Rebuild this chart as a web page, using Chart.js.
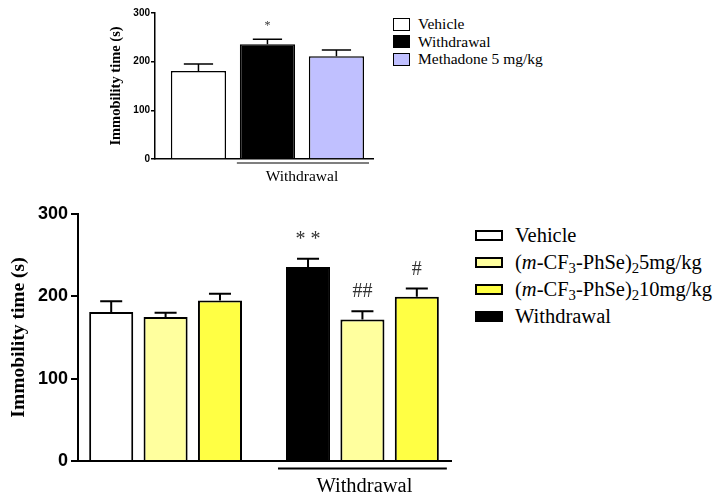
<!DOCTYPE html>
<html><head><meta charset="utf-8">
<script src="https://cdn.jsdelivr.net/npm/chart.js@4"></script>
<style>
html,body{margin:0;padding:0;background:#fff;width:724px;height:500px;overflow:hidden;position:relative}
.wrap{position:absolute}
.leg{position:absolute;font-family:"Liberation Serif","Times New Roman",serif;color:#000;white-space:nowrap}
.leg .row{position:absolute;left:0;display:flex;align-items:center}
.leg .box{box-sizing:border-box;border:solid #000}
sub{font-size:72%;vertical-align:-0.3em;line-height:0}
</style></head><body>
<div class="wrap" style="left:100px;top:0;width:290px;height:195px"><canvas id="top"></canvas></div>
<div class="wrap" style="left:0;top:195px;width:470px;height:305px"><canvas id="bot"></canvas></div>
<div class="leg" id="legTop" style="left:393px;top:0"></div>
<div class="leg" id="legBot" style="left:475px;top:195px"></div>
<script>
// ---- Top chart data ----
const topCategories = ['Vehicle', 'Withdrawal', 'Methadone 5 mg/kg'];
const topValues = [181, 236, 211];
const topErrors = [14, 10, 13];
const topMarks = ['', '*', ''];
const topColors = ['#ffffff', '#000000', '#c0c0ff'];
const topTicks = [0, 100, 200, 300];

// ---- Bottom chart data ----
const botGroups = ['Control', 'Withdrawal'];
const botSeries = ['Vehicle / Withdrawal', '(m-CF3-PhSe)2 5mg/kg', '(m-CF3-PhSe)2 10mg/kg'];
const botFirstValues = [181, 235.5];
const botFirstErrors = [13, 10];
const botDose5Values = [175, 172];
const botDose5Errors = [5, 10];
const botDose10Values = [195, 199.5];
const botDose10Errors = [8, 10];
const botFirstMarks = ['', '* *'];
const botDose5Marks = ['', '##'];
const botDose10Marks = ['', '#'];
const botTicks = [0, 100, 200, 300];

const errorBarPlugin = {
  id: 'errbars',
  afterDatasetsDraw(chart, args, opts) {
    const ctx = chart.ctx, y = chart.scales.y;
    chart.data.datasets.forEach((ds, di) => {
      const meta = chart.getDatasetMeta(di);
      meta.data.forEach((el, i) => {
        const v = ds.data[i].y, e = ds.errors[i];
        const yTop = y.getPixelForValue(v + e);
        const half = el.width * opts.capRatio / 2;
        ctx.save();
        ctx.strokeStyle = '#000';
        ctx.lineWidth = opts.lineWidth;
        ctx.beginPath();
        ctx.moveTo(el.x, el.y);
        ctx.lineTo(el.x, yTop);
        ctx.moveTo(el.x - half, yTop);
        ctx.lineTo(el.x + half, yTop);
        ctx.stroke();
        const m = ds.marks[i];
        if (m) {
          ctx.fillStyle = '#333';
          ctx.font = opts.markFont;
          ctx.textAlign = 'center';
          ctx.textBaseline = 'middle';
          ctx.fillText(m, el.x, yTop - opts.markOffset);
        }
        ctx.restore();
      });
    });
  }
};

const groupLabelPlugin = {
  id: 'grouplabel',
  afterDraw(chart, args, opts) {
    const ctx = chart.ctx;
    const first = chart.getDatasetMeta(opts.from[0]).data[opts.from[1]];
    const last = chart.getDatasetMeta(opts.to[0]).data[opts.to[1]];
    const l = first.x - first.width / 2, r = last.x + last.width / 2;
    const yb = chart.chartArea.bottom + opts.lineGap;
    ctx.save();
    ctx.strokeStyle = '#000';
    ctx.lineWidth = opts.lineWidth;
    ctx.beginPath();
    ctx.moveTo(l - opts.extL, yb); ctx.lineTo(r + opts.extR, yb); ctx.stroke();
    ctx.fillStyle = '#000';
    ctx.font = opts.font;
    ctx.textAlign = 'center';
    ctx.textBaseline = 'alphabetic';
    ctx.fillText(opts.text, (l + r) / 2 + opts.textShift, yb + opts.textGap);
    ctx.restore();
  }
};

function yScale(ticks, o) {
  return {
    min: 0, max: 300,
    afterBuildTicks(s) { s.ticks = ticks.map(v => ({ value: v })); },
    afterFit(s) { s.width = o.width; },
    border: { display: true, color: '#000', width: o.lw },
    grid: { display: true, drawOnChartArea: false, drawTicks: true, tickLength: o.tickLen, color: '#000', lineWidth: o.lw },
    ticks: { color: '#000', padding: o.pad, font: { family: 'Liberation Sans, Arial', weight: 'bold', size: o.tickSize } },
    title: { display: true, text: 'Immobility time (s)', color: '#000', padding: { top: o.titlePad, bottom: 0 },
      font: { family: 'Liberation Serif, Times New Roman', weight: 'bold', size: o.titleSize } }
  };
}
function xScale(labels, min, max, lw) {
  return {
    type: 'linear', min: min, max: max, offset: false,
    afterBuildTicks(s) { s.ticks = labels.map((c, i) => ({ value: i })); },
    afterFit(s) { s.height = 0; },
    border: { display: true, color: '#000', width: lw },
    grid: { display: false, offset: false },
    ticks: { display: false }
  };
}

// ---- Top chart ----
new Chart(document.getElementById('top'), {
  type: 'bar',
  data: {
    datasets: [{
      data: topCategories.map((c, i) => ({ x: i, y: topValues[i] })),
      errors: topErrors, marks: topMarks,
      backgroundColor: topColors, borderColor: '#000', borderWidth: 1.5,
      categoryPercentage: 1, barPercentage: 0.8
    }]
  },
  options: {
    responsive: true, maintainAspectRatio: false, animation: false,
    layout: { padding: { top: 13, bottom: 36, right: 17, left: 0 } },
    plugins: {
      legend: { display: false }, tooltip: { enabled: false },
      errbars: { capRatio: 0.53, lineWidth: 1.5, markFont: '12px Liberation Serif', markOffset: 13 },
      grouplabel: { from: [0, 1], to: [0, 2], text: 'Withdrawal', extL: 3, extR: 5, lineGap: 4, textGap: 18, textShift: 0, lineWidth: 1.2, font: '15.5px Liberation Serif' }
    },
    scales: {
      x: xScale(topCategories, -0.63, 2.53, 1.5),
      y: yScale(topTicks, { width: 55, lw: 1.5, tickLen: 4, pad: 1, tickSize: 10, titleSize: 14.5, titlePad: 8 })
    }
  },
  plugins: [errorBarPlugin, groupLabelPlugin]
});

// ---- Bottom chart ----
const botColorsFirst = ['#ffffff', '#000000'];
new Chart(document.getElementById('bot'), {
  type: 'bar',
  data: {
    datasets: [
      { label: botSeries[0], data: botGroups.map((g, i) => ({ x: i, y: botFirstValues[i] })), errors: botFirstErrors, marks: botFirstMarks, backgroundColor: botColorsFirst },
      { label: botSeries[1], data: botGroups.map((g, i) => ({ x: i, y: botDose5Values[i] })), errors: botDose5Errors, marks: botDose5Marks, backgroundColor: '#ffff9e' },
      { label: botSeries[2], data: botGroups.map((g, i) => ({ x: i, y: botDose10Values[i] })), errors: botDose10Errors, marks: botDose10Marks, backgroundColor: '#ffff44' }
    ].map(d => Object.assign(d, { borderColor: '#000', borderWidth: 2, categoryPercentage: 0.829, barPercentage: 0.81 }))
  },
  options: {
    responsive: true, maintainAspectRatio: false, animation: false,
    layout: { padding: { top: 19, bottom: 39, right: 19, left: 0 } },
    plugins: {
      legend: { display: false }, tooltip: { enabled: false },
      errbars: { capRatio: 0.5, lineWidth: 2, markFont: '20px Liberation Serif', markOffset: 19 },
      grouplabel: { from: [0, 1], to: [2, 1], text: 'Withdrawal', extL: 8, extR: 8, lineGap: 7.6, textGap: 23.5, textShift: 2, lineWidth: 2, font: '20.5px Liberation Serif' }
    },
    scales: {
      x: xScale(botGroups, -0.445, 1.45, 2),
      y: yScale(botTicks, { width: 78, lw: 2, tickLen: 7, pad: 3, tickSize: 18, titleSize: 19.5, titlePad: 7 })
    }
  },
  plugins: [errorBarPlugin, groupLabelPlugin]
});

// ---- HTML legends ----
const topLegend = [
  { html: 'Vehicle', fill: '#ffffff' },
  { html: 'Withdrawal', fill: '#000000' },
  { html: 'Methadone 5 mg/kg', fill: '#c0c0ff' }
];
const botLegend = [
  { html: 'Vehicle', fill: '#ffffff' },
  { html: '(<i>m</i>-CF<sub>3</sub>-PhSe)<sub>2</sub>5mg/kg', fill: '#ffff9e' },
  { html: '(<i>m</i>-CF<sub>3</sub>-PhSe)<sub>2</sub>10mg/kg', fill: '#ffff44' },
  { html: 'Withdrawal', fill: '#000000' }
];
function buildLegend(el, items, o) {
  items.forEach((it, i) => {
    const r = document.createElement('div');
    r.className = 'row';
    r.style.top = (o.y0 + i * o.dy - o.h / 2) + 'px';
    r.style.height = o.h + 'px';
    r.style.fontSize = o.fs + 'px';
    r.innerHTML = '<span class="box" style="width:' + o.bw + 'px;height:' + o.bh + 'px;border-width:' + o.blw + 'px;background:' + it.fill + '"></span><span style="margin-left:' + o.gap + 'px">' + it.html + '</span>';
    el.appendChild(r);
  });
}
buildLegend(document.getElementById('legTop'), topLegend, { y0: 24, dy: 17.5, h: 18, fs: 15.5, bw: 17, bh: 13, blw: 1.5, gap: 8 });
buildLegend(document.getElementById('legBot'), botLegend, { y0: 40, dy: 27.2, h: 26, fs: 20.5, bw: 28, bh: 11, blw: 2, gap: 12 });
</script>
</body></html>
